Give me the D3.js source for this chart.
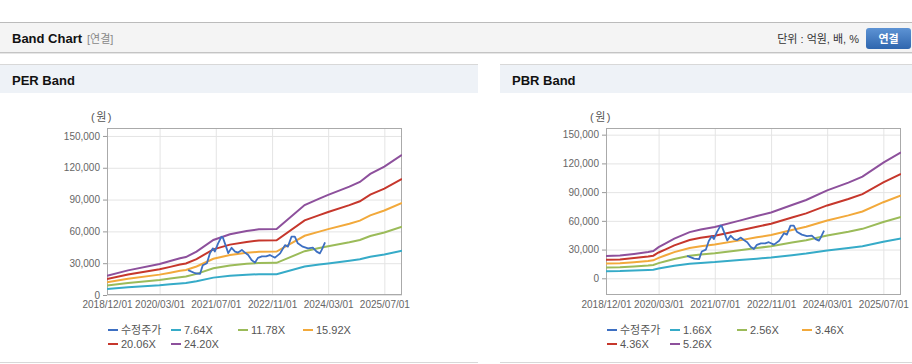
<!DOCTYPE html>
<html>
<head>
<meta charset="utf-8">
<script src="https://cdn.jsdelivr.net/npm/d3@7"></script>
<style>
  body { margin: 0; background: #fff; }
  svg { display: block; font-family: Arial, "Liberation Sans", "Noto Sans CJK KR", sans-serif; }
  .tick text { fill: #666; font-family: "Liberation Sans Narrow", Arial, "Liberation Sans", sans-serif; font-size: 10px; }
  .axis path { display: none; }
  .axis line { stroke: #999; }
  .grid line { stroke: #e4e4e4; }
  .grid path, .grid text { display: none; }
</style>
</head>
<body>
<div id="chart"></div>
<script>
// ---- data ----
const xTickLabels = ["2018/12/01", "2020/03/01", "2021/07/01", "2022/11/01", "2024/03/01", "2025/07/01"];
const yTicks = [0, 30000, 60000, 90000, 120000, 150000];

// EPS behind the PER bands (won)
const epsDates = ["2018-12-01", "2019-06-01", "2020-03-01", "2020-06-01", "2020-08-25", "2020-10-15",
  "2021-01-15", "2021-06-10", "2021-11-01", "2022-03-25", "2022-07-10", "2022-12-10", "2023-08-10",
  "2023-12-15", "2024-03-01", "2024-09-01", "2024-12-01", "2025-03-01", "2025-07-01", "2025-12-01"];
const epsValues = [752, 960, 1207, 1322, 1430, 1479, 1690, 2145, 2368, 2496, 2562, 2574, 3508,
  3756, 3901, 4223, 4405, 4719, 5004, 5459];
const perMultiples = [7.64, 11.78, 15.92, 20.06, 24.20];

// BPS behind the PBR bands (won)
const bpsDates = ["2018-12-01", "2019-04-01", "2019-08-01", "2019-12-01", "2020-01-15", "2020-03-01",
  "2020-05-01", "2020-07-15", "2020-11-25", "2021-03-01", "2021-07-01", "2022-02-01", "2022-07-01",
  "2022-11-01", "2023-05-01", "2023-09-01", "2024-03-01", "2024-09-01", "2025-01-01", "2025-07-01", "2025-12-01"];
const bpsValues = [4430, 4525, 4848, 5228, 5418, 6179, 6939, 7890, 9163, 9696, 10190, 11445, 12357,
  13080, 14563, 15551, 17452, 18992, 20171, 22966, 25000];
const pbrMultiples = [1.66, 2.56, 3.46, 4.36, 5.26];

// adjusted price (수정주가)
const priceDates = ["2020-11-03", "2021-01-03", "2021-02-15", "2021-03-10", "2021-04-15", "2021-05-10",
  "2021-06-05", "2021-06-23", "2021-07-20", "2021-08-20", "2021-09-01", "2021-10-03", "2021-10-17",
  "2021-11-15", "2021-12-15", "2022-01-10", "2022-02-12", "2022-03-10", "2022-04-08", "2022-05-07",
  "2022-06-05", "2022-07-01", "2022-08-05", "2022-09-10", "2022-10-12", "2022-11-26", "2023-01-10",
  "2023-02-21", "2023-03-18", "2023-04-18", "2023-05-17", "2023-06-12", "2023-07-25", "2023-09-08",
  "2023-10-20", "2023-11-22", "2023-12-20", "2024-01-05", "2024-02-03"];
const priceValues = [23500, 20500, 20000, 28000, 30000, 39000, 44000, 41000, 48500, 55000, 54000,
  44000, 39500, 44500, 41000, 40000, 42500, 40000, 37700, 33000, 30500, 35000, 36500, 36500, 37700,
  35200, 39300, 47000, 45600, 55000, 55000, 48700, 45600, 44000, 44600, 40900, 39300, 42500, 49700];

const priceColor = "#3d6fc2";
const bandColors = ["#36abc8", "#9bbb59", "#f2a93b", "#c6372c", "#8d509c"];

// ---- layout ----
const width = 912, height = 364;
const parse = d3.timeParse("%Y-%m-%d");
const tickParse = d3.timeParse("%Y/%m/%d");

const svg = d3.select("#chart").append("svg")
  .attr("width", width)
  .attr("height", height);

// top title bar
svg.append("rect").attr("x", 0).attr("y", 22).attr("width", width).attr("height", 31)
  .attr("fill", "#f4f4f4");
svg.append("line").attr("x1", 0).attr("x2", width).attr("y1", 22.5).attr("y2", 22.5).attr("stroke", "#bbb");
svg.append("line").attr("x1", 0).attr("x2", width).attr("y1", 52.5).attr("y2", 52.5).attr("stroke", "#c4c4c4");
svg.append("line").attr("x1", 0).attr("x2", width).attr("y1", 53.5).attr("y2", 53.5).attr("stroke", "#e6e6e6");
svg.append("text").attr("x", 12).attr("y", 42.5).attr("font-size", 13).attr("font-weight", "bold")
  .attr("fill", "#111").text("Band Chart");
svg.append("text").attr("x", 87).attr("y", 42.5).attr("font-size", 11).attr("fill", "#888").text("[연결]");
svg.append("text").attr("x", 859).attr("y", 42.5).attr("font-size", 11).attr("fill", "#333")
  .attr("text-anchor", "end").text("단위 : 억원, 배, %");

const grad = svg.append("defs").append("linearGradient").attr("id", "btn").attr("x2", 0).attr("y2", 1);
grad.append("stop").attr("offset", 0).attr("stop-color", "#5d93d4");
grad.append("stop").attr("offset", 1).attr("stop-color", "#2f66ae");
svg.append("rect").attr("x", 866).attr("y", 28).attr("width", 45).attr("height", 21).attr("rx", 3)
  .attr("fill", "url(#btn)");
svg.append("text").attr("x", 888.5).attr("y", 42.5).attr("font-size", 11).attr("font-weight", "bold")
  .attr("fill", "#fff").attr("text-anchor", "middle").text("연결");

function drawBand(cfg) {
  const g = svg.append("g");
  const px = cfg.panelX, pw = cfg.panelW;

  // panel header
  g.append("rect").attr("x", px).attr("y", 65).attr("width", pw).attr("height", 28).attr("fill", "#eef2f7");
  g.append("line").attr("x1", px).attr("x2", px + pw).attr("y1", 64.5).attr("y2", 64.5).attr("stroke", "#d8d8d8");
  g.append("line").attr("x1", px).attr("x2", px + pw).attr("y1", 362.5).attr("y2", 362.5).attr("stroke", "#d8d8d8");
  g.append("text").attr("x", px + 12).attr("y", 85).attr("font-size", 13).attr("font-weight", "bold")
    .attr("fill", "#111").text(cfg.title);

  const left = cfg.left, right = cfg.left + 295, top = 128, bottom = 295;

  const x = d3.scaleTime()
    .domain([parse("2018-12-01"), parse("2025-12-01")])
    .range([left, right]);
  const y = d3.scaleLinear()
    .domain(cfg.yDomain)
    .range([bottom, top]);

  const xTicks = xTickLabels.map(tickParse);

  // grid
  g.append("g").attr("class", "grid")
    .attr("transform", `translate(0,${bottom})`)
    .call(d3.axisBottom(x).tickValues(xTicks).tickSize(-(bottom - top)));
  g.append("g").attr("class", "grid")
    .attr("transform", `translate(${left},0)`)
    .call(d3.axisLeft(y).tickValues(yTicks).tickSize(-(right - left)));

  // plot border
  g.append("rect").attr("x", left + 0.5).attr("y", top + 0.5)
    .attr("width", right - left - 1).attr("height", bottom - top - 1)
    .attr("fill", "none").attr("stroke", "#aaa");

  // axes
  g.append("g").attr("class", "axis")
    .attr("transform", `translate(0,${bottom})`)
    .call(d3.axisBottom(x).tickValues(xTicks).tickFormat(d3.timeFormat("%Y/%m/%d"))
      .tickSize(0).tickPadding(6).tickSizeOuter(0));
  g.append("g").attr("class", "axis")
    .attr("transform", `translate(${left},0)`)
    .call(d3.axisLeft(y).tickValues(yTicks).tickFormat(d3.format(","))
      .tickSize(4).tickPadding(3).tickSizeOuter(0));

  g.append("text").attr("x", left - 5).attr("y", 121).attr("font-size", 11).attr("fill", "#555")
    .attr("text-anchor", "middle").attr("letter-spacing", 1.5).text("(원)");

  // lines
  const clipId = "clip-" + cfg.key;
  g.append("clipPath").attr("id", clipId).append("rect")
    .attr("x", left).attr("y", top).attr("width", right - left).attr("height", bottom - top);
  const plot = g.append("g").attr("clip-path", `url(#${clipId})`);

  const line = d3.line().x(d => x(d.date)).y(d => y(d.value));
  const base = cfg.baseDates.map((d, i) => ({date: parse(d), base: cfg.baseValues[i]}));

  cfg.multiples.forEach((m, i) => {
    plot.append("path")
      .datum(base.map(d => ({date: d.date, value: d.base * m})))
      .attr("fill", "none")
      .attr("stroke", bandColors[i])
      .attr("stroke-width", 2)
      .attr("d", line);
  });

  plot.append("path")
    .datum(priceDates.map((d, i) => ({date: parse(d), value: priceValues[i]})))
    .attr("fill", "none")
    .attr("stroke", priceColor)
    .attr("stroke-width", 1.8)
    .attr("stroke-linejoin", "round")
    .attr("d", line);

  // legend
  const items = [{label: "수정주가", color: priceColor}]
    .concat(cfg.multiples.map((m, i) => ({label: m.toFixed(2) + "X", color: bandColors[i]})));
  const cols = [0, 63, 130, 195];
  items.forEach((it, i) => {
    const lx = left + 1 + cols[i % 4];
    const ly = 330 + Math.floor(i / 4) * 14;
    g.append("line").attr("x1", lx).attr("x2", lx + 10).attr("y1", ly).attr("y2", ly)
      .attr("stroke", it.color).attr("stroke-width", 2);
    g.append("text").attr("x", lx + 13).attr("y", ly + 4).attr("font-size", 11).attr("fill", "#555")
      .text(it.label);
  });
}

drawBand({
  key: "per", title: "PER Band", panelX: 0, panelW: 478, left: 107,
  yDomain: [0, 157500],
  baseDates: epsDates, baseValues: epsValues, multiples: perMultiples
});

drawBand({
  key: "pbr", title: "PBR Band", panelX: 500, panelW: 412, left: 606,
  yDomain: [-17440, 156960],
  baseDates: bpsDates, baseValues: bpsValues, multiples: pbrMultiples
});
</script>
</body>
</html>
